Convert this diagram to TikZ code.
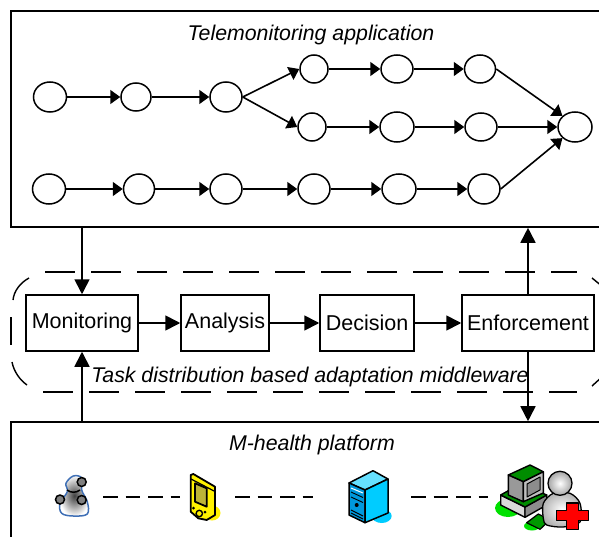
\documentclass[tikz,border=0pt]{standalone}
\usepackage{fontspec}
\setmainfont{Liberation Sans}
\usetikzlibrary{arrows.meta,shapes.geometric,calc}
\definecolor{srvcyan}{HTML}{00CCFF}
\definecolor{srvdark}{HTML}{0099DD}
\definecolor{compgreen}{HTML}{00E000}
\definecolor{persblue}{HTML}{3F6FB5}
\tikzset{
  x=1pt,y=-1pt,
  every picture/.style={line width=1.5pt},
  state/.style={draw,ellipse,fill=white,inner sep=0pt,line width=1.5pt},
  flow/.style={-{Triangle[length=10pt,width=14pt]},line width=1.6pt},
  bigflow/.style={-{Triangle[length=15pt,width=15pt]},line width=1.7pt},
  phase/.style={draw,fill=white,inner sep=0pt,minimum height=56pt,line width=1.5pt,font=\fontsize{21.5}{24}\selectfont},
  layer/.style={draw,inner sep=0pt,line width=1.6pt},
  caption/.style={inner sep=0pt,font=\fontsize{21.3}{24}\selectfont\itshape},
  midline/.style={line width=1.4pt,dash pattern=on 30pt off 16pt},
  iconlink/.style={line width=1.5pt,dash pattern=on 14.5pt off 8pt},
  ic/.style={draw=black,line width=1.2pt,line join=round}
}
\begin{document}
\begin{tikzpicture}
\useasboundingbox (0,0) rectangle (599,537);
\clip (0,0) rectangle (599,537);

% layers
\node[layer,minimum width=640pt,minimum height=216pt] (app) at (331,119) {};
\node[layer,minimum width=640pt,minimum height=160pt] (plat) at (331,502) {};

% dashed middleware outline
\draw[midline] (45,272) -- (577,272);
\draw[midline] (43,392) -- (577,392);
\draw[midline,dash pattern=on 40pt off 0pt] (29,278) .. controls (20,283) and (14,291) .. (13,300);
\draw[midline,dash pattern=on 40pt off 0pt] (11,317) -- (11,345);
\draw[midline,dash pattern=on 40pt off 0pt] (12,362) .. controls (14,372) and (20,380) .. (27,385);
\draw[midline,dash pattern=on 40pt off 0pt] (592,278) -- (603,287);
\draw[midline,dash pattern=on 40pt off 0pt] (592,386) -- (603,376);

% application graph
\node[state,minimum width=33pt,minimum height=30pt] (a1) at (50,97) {};
\node[state,minimum width=30pt,minimum height=28pt] (a2) at (136,97) {};
\node[state,minimum width=32pt,minimum height=30pt] (a3) at (226,97) {};
\node[state,minimum width=28pt,minimum height=28pt] (t1) at (314,69) {};
\node[state,minimum width=32pt,minimum height=28pt] (t2) at (397,69) {};
\node[state,minimum width=31pt,minimum height=28pt] (t3) at (480,69) {};
\node[state,minimum width=28pt,minimum height=28pt] (m1) at (312,127) {};
\node[state,minimum width=34pt,minimum height=30pt] (m2) at (397,127) {};
\node[state,minimum width=32pt,minimum height=28pt] (m3) at (481,127) {};
\node[state,minimum width=34pt,minimum height=30pt] (z) at (575,127) {};
\node[state,minimum width=33pt,minimum height=30pt] (b1) at (49,189) {};
\node[state,minimum width=31pt,minimum height=30pt] (b2) at (139,189) {};
\node[state,minimum width=32pt,minimum height=30pt] (b3) at (226,189) {};
\node[state,minimum width=32pt,minimum height=30pt] (b4) at (314,189) {};
\node[state,minimum width=34pt,minimum height=30pt] (b5) at (399,189) {};
\node[state,minimum width=32pt,minimum height=30pt] (b6) at (484,189) {};

\foreach \p/\q in {a1/a2,a2/a3,t1/t2,t2/t3,m1/m2,m2/m3,m3/z,b1/b2,b2/b3,b3/b4,b4/b5,b5/b6}
  \draw[flow] (\p) -- (\q);
\draw[flow] (a3.east) -- (t1.west);
\draw[flow] (a3.east) -- (m1.west);
\draw[flow] (t3.east) -- (z.north west);
\draw[flow] (b6.east) -- (z.south west);

% captions
\node[caption] (tapp) at (311,35) {Telemonitoring application};
\node[caption] (tmid) at (310,377) {Task distribution based adaptation middleware};
\node[caption] (tplat) at (312,445) {M-health platform};

% phases
\node[phase,minimum width=112pt] (mon) at (82,323) {Monitoring};
\node[phase,minimum width=88pt] (ana) at (225,323) {Analysis};
\node[phase,minimum width=94pt] (dec) at (367,323) {Decision};
\node[phase,minimum width=132pt] (enf) at (528,323) {Enforcement};

\draw[bigflow] (mon) -- (ana);
\draw[bigflow] (ana) -- (dec);
\draw[bigflow] (dec) -- (enf);
\draw[bigflow] (app.south -| mon) -- (mon);
\draw[bigflow] (plat.north -| mon) -- (mon);
\draw[bigflow] (enf) -- (app.south -| enf);
\draw[bigflow] (enf) -- (plat.north -| enf);

% icon links
\coordinate (l1) at (103,497);
\coordinate (l2) at (180,497);
\coordinate (l3) at (235,497);
\coordinate (l4) at (313,497);
\coordinate (l5) at (411,497);
\coordinate (l6) at (488,497);
\draw[iconlink] (l1) -- (l2);
\draw[iconlink] (l3) -- (l4);
\draw[iconlink] (l5) -- (l6);

% person icon
\path[draw=persblue,line width=1.5pt,inner color=black!75,outer color=white]
  plot[smooth cycle,tension=0.6] coordinates {(73.3,476) (66,483.3) (67.3,491.7) (60,503.3) (61.7,513.3) (73.3,516) (87.3,514) (87.3,501.7) (81.7,490) (81.7,478)};
\draw[line width=1.5pt] (67,490) .. controls (71,493) and (76,493) .. (80,490);
\foreach \c in {(81.7,482),(60,499.5),(81.7,500)}
  \draw[fill=black!50,line width=1.5pt] \c circle (4.5pt);

% phone icon
\fill[yellow] (212,513) ellipse (8.5pt and 7.5pt);
\draw[ic,fill=yellow,line width=1.8pt] (190.7,475) -- (193.3,474) -- (215,486.7) -- (215,515) -- (206.7,520) -- (198.3,518.3) -- (190.7,511.7) -- cycle;
\draw[ic,line width=1.2pt] (191,479) -- (214,491);
\draw[ic,fill=yellow!70!black,line width=1.8pt] (195,483.3) -- (206.7,488.3) -- (206.7,506.7) -- (195,501.7) -- cycle;
\draw[ic,fill=yellow,line width=1.4pt] (199.3,513.5) circle (3.2pt);
\fill (193.5,508) circle (1.5pt) (205,512) circle (1.5pt);

% server icon
\fill[srvcyan] (381.7,516) ellipse (10pt and 7pt);
\draw[ic,fill=srvcyan!60,line width=1.5pt] (373,470.7) -- (349,483) -- (365,490) -- (388,479) -- cycle;
\draw[ic,fill=srvdark,line width=1.5pt] (349,483) -- (365,490) -- (365,522.7) -- (349,515) -- cycle;
\draw[ic,fill=srvcyan,line width=1.5pt] (365,490) -- (388,479) -- (388,513) -- (365,522.7) -- cycle;
\draw[white,line width=1pt] (351,488) -- (363,493);
\draw[line width=0.9pt] (351,492) -- (363,497.5) (351,497) -- (363,502.5) (351,510) -- (363,516) (351,513) -- (363,519);
\fill (356.7,505) circle (2pt);

% workstation icon
\fill[compgreen] (508,508) ellipse (13pt and 9pt);
\fill[compgreen] (532,526) ellipse (8pt and 4.5pt);
\draw[ic,fill=black!15,line width=1.4pt] (500.7,495) -- (525,507) -- (525,517.3) -- (500.7,505) -- cycle;
\draw[ic,fill=black!45,line width=1.4pt] (525,507) -- (546.7,495) -- (546.7,505) -- (525,517.3) -- cycle;
\draw[ic,fill=green!55!black,line width=1.4pt] (500.7,495) -- (520,484) -- (546.7,495) -- (525,507) -- cycle;
\draw[ic,fill=green!55!black,line width=1.4pt] (508.3,475) -- (530,465) -- (543.3,471.7) -- (523.3,481.7) -- cycle;
\draw[ic,fill=black!40,line width=1.4pt] (508.3,475) -- (523.3,481.7) -- (523.3,501.7) -- (508.3,495) -- cycle;
\draw[ic,fill=black!25,line width=1.4pt] (523.3,481.7) -- (543.3,471.7) -- (543.3,493) -- (523.3,501.7) -- cycle;
\draw[ic,fill=black!45,line width=1pt] (527,484) -- (540,477) -- (540,490) -- (527,497) -- cycle;
\draw[ic,fill=green!60!black,line width=1.2pt] (526.7,522.7) -- (538.3,514) -- (550,520) -- (540,529.3) -- cycle;

% user with cross
\path[draw=black,line width=1.3pt,inner color=white,outer color=black!30]
  plot[smooth cycle,tension=0.5] coordinates {(543.3,518.3) (543.3,503.3) (553.3,493.3) (570,493.3) (580,503.3) (580,522) (563,527) (546.7,525)};
\path[draw=black,line width=1.3pt,inner color=white,outer color=black!35] (560,483.3) circle (12pt);
\draw[ic,fill=red,line width=1.3pt] (566.7,503) -- (578.3,503) -- (578.3,510.7) -- (588.3,510.7) -- (588.3,520.7) -- (578.3,520.7) -- (578.3,529.3) -- (566.7,529.3) -- (566.7,520.7) -- (556.7,520.7) -- (556.7,510.7) -- (566.7,510.7) -- cycle;
\end{tikzpicture}
\end{document}
